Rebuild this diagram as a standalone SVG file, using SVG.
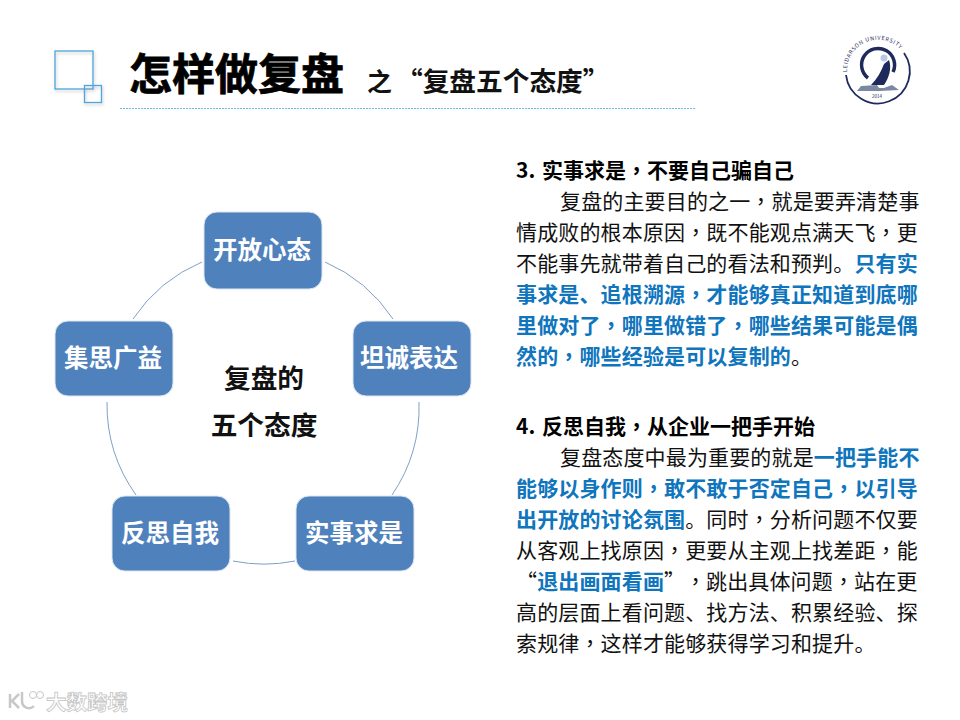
<svg xmlns="http://www.w3.org/2000/svg" width="960" height="720" viewBox="0 0 960 720">
<style>
text{font-family:"Noto Sans CJK SC","Liberation Sans",sans-serif;text-spacing-trim:space-all}
.n{fill:#4f81bd;stroke:#dce6f1;stroke-width:1}
.nt{fill:#fff;font-size:24.500px;font-weight:700;text-anchor:middle}
.c{fill:none;stroke:#7f9fc6;stroke-width:1}
.b{font-size:21px;fill:#111;letter-spacing:.15px}
.h{font-size:21px;font-weight:700;fill:#000}
.hl{font-weight:700;fill:#0f75bd}
.p{font-family:"Noto Sans CJK TC","Liberation Sans",sans-serif}
.sq{fill:none;stroke:#4ea6dc;stroke-width:1.3}
.wm{fill:#fff;stroke:#c4c4c4;stroke-width:.8}
.wl{fill:none;stroke:#c8c8c8;stroke-width:2.500}
.ct{font-size:26.700px;font-weight:700;fill:#111;text-anchor:middle}
</style>
<defs><filter id="s" x="-20%" y="-20%" width="150%" height="150%"><feDropShadow dx="1" dy="2" stdDeviation="1.5" flood-color="#888" flood-opacity=".45"/></filter>
<path id="ringtext" d="M847 72A31 31 0 0 1 901 50"/></defs>
<rect width="960" height="720" fill="#fff"/>
<g id="title">
<rect class="sq" x="55" y="51" width="38" height="38" filter="url(#s)"/>
<rect class="sq" x="84.500" y="85.500" width="17" height="17" filter="url(#s)"/>
<text x="129" y="90" font-size="43" font-weight="700" fill="#000" stroke="#000" stroke-width=".8">怎样做复盘</text>
<text x="367" y="91" font-size="25" font-weight="700" fill="#111">之</text>
<text x="396" y="91" font-size="26.700" font-weight="700" fill="#111">“复盘五个态度”</text>
<line x1="120" y1="108.500" x2="695" y2="108.500" stroke="#6db9e6" stroke-dasharray="2 1"/>
</g>
<g id="logo">
<path d="M846 75A32 32 0 1 0 904 53" fill="none" stroke="#1f2a5c" stroke-width="1.800"/>
<path d="M868 78A16.500 16.500 0 1 1 893 72" fill="none" stroke="#1f2a5c" stroke-width="3.500"/>
<path d="M871 85C877 79 881 72 884 64L889 60C892 68 889 78 884 85Z" fill="#1f2a5c"/>
<path d="M857 91L861 86L877 85L879 88L884 88L892 85L899 90L880 91Z" fill="#7b88a4"/>
<circle cx="884" cy="58" r="3.500" fill="#b7c9e2"/>
<text font-size="5.500" fill="#1f2a5c" font-family="Liberation Serif"><textPath href="#ringtext" textLength="74">LEIDARSON UNIVERSITY</textPath></text>
<text x="877" y="98" font-size="4.500" fill="#1f2a5c" text-anchor="middle">2014</text>
</g>
<g id="connectors">
<path class="c" d="M325 262A156 156 0 0 1 393 319"/>
<path class="c" d="M419 402A156 156 0 0 1 392 495"/>
<path class="c" d="M295 561A156 156 0 0 1 233 561"/>
<path class="c" d="M136 495A156 156 0 0 1 107 402"/>
<path class="c" d="M133 319A156 156 0 0 1 202 262"/>
</g>
<g id="n1"><rect class="n" x="204" y="212" width="118" height="77" rx="13"/><text class="nt" x="262" y="259">开放心态</text></g>
<g id="n2"><rect class="n" x="353" y="321" width="118" height="75" rx="13"/><text class="nt" x="409" y="367">坦诚表达</text></g>
<g id="n3"><rect class="n" x="296" y="496" width="118" height="75" rx="13"/><text class="nt" x="354" y="542">实事求是</text></g>
<g id="n4"><rect class="n" x="112" y="496" width="118" height="75" rx="13"/><text class="nt" x="170" y="542">反思自我</text></g>
<g id="n5"><rect class="n" x="55" y="321" width="118" height="75" rx="13"/><text class="nt" x="113" y="367">集思广益</text></g>
<g id="center">
<text class="ct" x="264" y="388">复盘的</text>
<text class="ct" x="264" y="435">五个态度</text>
</g>
<g id="body">
<text class="h" x="516" y="178">3. <tspan x="542">实事求是</tspan><tspan class="p">，</tspan>不要自己骗自己</text>
<text class="b" x="560" y="209">复盘的主要目的之一<tspan class="p">，</tspan>就是要弄清楚事</text>
<text class="b" x="516" y="240">情成败的根本原因<tspan class="p">，</tspan>既不能观点满天飞<tspan class="p">，</tspan>更</text>
<text class="b" x="516" y="271">不能事先就带着自己的看法和预判。<tspan class="hl">只有实</tspan></text>
<text class="b hl" x="516" y="302">事求是、追根溯源<tspan class="p">，</tspan>才能够真正知道到底哪</text>
<text class="b hl" x="516" y="333">里做对了<tspan class="p">，</tspan>哪里做错了<tspan class="p">，</tspan>哪些结果可能是偶</text>
<text class="b" x="516" y="364"><tspan class="hl">然的<tspan class="p">，</tspan>哪些经验是可以复制的</tspan>。</text>
<text class="h" x="516" y="434">4. <tspan x="542">反思自我</tspan><tspan class="p">，</tspan>从企业一把手开始</text>
<text class="b" x="560" y="465">复盘态度中最为重要的就是<tspan class="hl">一把手能不</tspan></text>
<text class="b hl" x="516" y="496">能够以身作则<tspan class="p">，</tspan>敢不敢于否定自己<tspan class="p">，</tspan>以引导</text>
<text class="b" x="516" y="527"><tspan class="hl">出开放的讨论氛围</tspan>。同时<tspan class="p">，</tspan>分析问题不仅要</text>
<text class="b" x="516" y="558">从客观上找原因<tspan class="p">，</tspan>更要从主观上找差距<tspan class="p">，</tspan>能</text>
<text class="b" x="516" y="589">“<tspan class="hl">退出画面看画</tspan>”<tspan class="p" x="685">，</tspan><tspan x="706">跳出具体问题</tspan><tspan class="p">，</tspan>站在更</text>
<text class="b" x="516" y="620">高的层面上看问题、找方法、积累经验、探</text>
<text class="b" x="516" y="651">索规律<tspan class="p">，</tspan>这样才能够获得学习和提升。</text>
</g>
<g id="watermark">
<path class="wl" d="M10 694V708M19 694L12 701L19 708"/>
<path class="wl" stroke-width="2" d="M22 692V701A7 7 0 0 0 34 706"/>
<circle cx="33" cy="695" r="3.500" fill="#fff" stroke="#c8c8c8"/><circle cx="40" cy="695" r="3.500" fill="#fff" stroke="#c8c8c8"/>
<text class="wm" x="46" y="710" font-size="20.500" font-weight="700">大数跨境</text>
</g>
</svg>
